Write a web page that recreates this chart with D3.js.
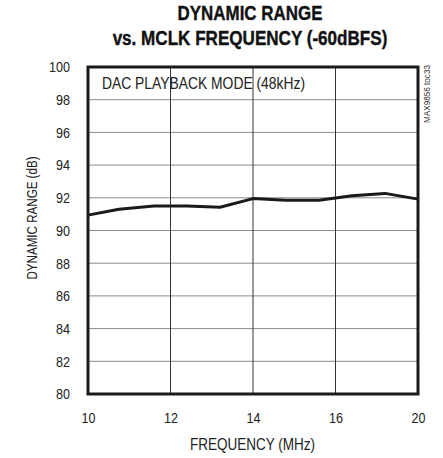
<!DOCTYPE html>
<html><head><meta charset="utf-8">
<script src="https://cdn.jsdelivr.net/npm/d3@7"></script>
<style>body{margin:0;background:#fff}svg{display:block}</style>
</head><body>
<script>
const xTicks = [10, 12, 14, 16, 20];
const yTicks = [80, 82, 84, 86, 88, 90, 92, 94, 96, 98, 100];
const freq = [10, 10.75, 11.6, 12.4, 13.2, 14.0, 14.8, 15.6, 16.8, 18.4, 20];
const dynRange = [90.94, 91.3, 91.5, 91.5, 91.42, 91.95, 91.85, 91.85, 92.12, 92.27, 91.92];

const W = 443, H = 458;
const L = 88, R = 418, T = 67, B = 394;
const font = "'Liberation Sans', Arial, sans-serif";

const svg = d3.select("body").append("svg").attr("width", W).attr("height", H);

function squeeze(sel, factor) {
  sel.each(function () {
    const w = this.getComputedTextLength();
    d3.select(this).attr("textLength", w * factor).attr("lengthAdjust", "spacingAndGlyphs");
  });
  return sel;
}
function fit(sel, width) {
  return sel.attr("textLength", width).attr("lengthAdjust", "spacingAndGlyphs");
}
// horizontally scaled text placed by its anchor point, sized to a target width
function scaledText(cx, cy, str, size, weight, width) {
  const g = svg.append("g");
  const t = g.append("text").attr("text-anchor", "middle")
    .attr("font-family", font).attr("font-weight", weight).attr("font-size", size)
    .attr("fill", "#111").text(str);
  const w = t.node().getComputedTextLength();
  g.attr("transform", `translate(${cx},${cy}) scale(${width / w},1)`);
  return t;
}

const step = (R - L) / (xTicks.length - 1);
const x = d3.scaleLinear().domain(xTicks).range(xTicks.map((d, i) => L + i * step));
const y = d3.scaleLinear().domain([80, 100]).range([B, T]);

svg.append("g").selectAll("line").data(yTicks.slice(1, -1)).join("line")
  .attr("x1", L).attr("x2", R).attr("y1", d => y(d)).attr("y2", d => y(d))
  .attr("stroke", "#8a8a8a").attr("stroke-width", 1);
svg.append("g").selectAll("line").data(xTicks.slice(1, -1)).join("line")
  .attr("y1", T).attr("y2", B).attr("x1", d => x(d)).attr("x2", d => x(d))
  .attr("stroke", "#333").attr("stroke-width", 1);

const line = d3.line().x((d, i) => x(freq[i])).y(d => y(d)).curve(d3.curveLinear);
svg.append("path").datum(dynRange).attr("d", line)
  .attr("fill", "none").attr("stroke", "#1a1a1a").attr("stroke-width", 3)
  .attr("stroke-linejoin", "round");

svg.append("rect").attr("x", L).attr("y", T).attr("width", R - L).attr("height", B - T)
  .attr("fill", "none").attr("stroke", "#1a1a1a").attr("stroke-width", 3);

const xAxis = svg.append("g").attr("transform", `translate(0,${B})`)
  .call(d3.axisBottom(x).tickValues(xTicks).tickSize(0).tickPadding(0).tickFormat(d3.format("d")));
xAxis.select(".domain").remove();
squeeze(xAxis.selectAll("text").attr("y", 0).attr("dy", 29).attr("font-family", font).attr("font-size", 15).attr("fill", "#222"), 0.84);

const yAxis = svg.append("g").attr("transform", `translate(${L},0)`)
  .call(d3.axisLeft(y).tickValues(yTicks).tickSize(0).tickPadding(18).tickFormat(d3.format("d")));
yAxis.select(".domain").remove();
squeeze(yAxis.selectAll("text").attr("font-family", font).attr("font-size", 15).attr("fill", "#222"), 0.84);

scaledText(250, 20, "DYNAMIC RANGE", 21, "bold", 145).attr("stroke", "#111").attr("stroke-width", 0.4);
scaledText(250, 45, "vs. MCLK FREQUENCY (-60dBFS)", 21, "bold", 275).attr("stroke", "#111").attr("stroke-width", 0.4);

fit(svg.append("text").attr("x", 252.5).attr("y", 450).attr("text-anchor", "middle")
  .attr("font-family", font).attr("font-size", 16.5).attr("fill", "#222")
  .text("FREQUENCY (MHz)"), 125);

fit(svg.append("text").attr("transform", `translate(37,218) rotate(-90)`).attr("text-anchor", "middle")
  .attr("font-family", font).attr("font-size", 14).attr("fill", "#222")
  .text("DYNAMIC RANGE (dB)"), 123);

fit(svg.append("text").attr("x", 102).attr("y", 89).attr("font-family", font).attr("font-size", 17).attr("fill", "#222")
  .text("DAC PLAYBACK MODE (48kHz)"), 203);

svg.append("text").attr("transform", `translate(430,123) rotate(-90)`)
  .attr("font-family", font).attr("font-size", 9).attr("fill", "#333")
  .attr("textLength", 58).attr("lengthAdjust", "spacingAndGlyphs")
  .text("MAX9856 toc33");
</script>
</body></html>
